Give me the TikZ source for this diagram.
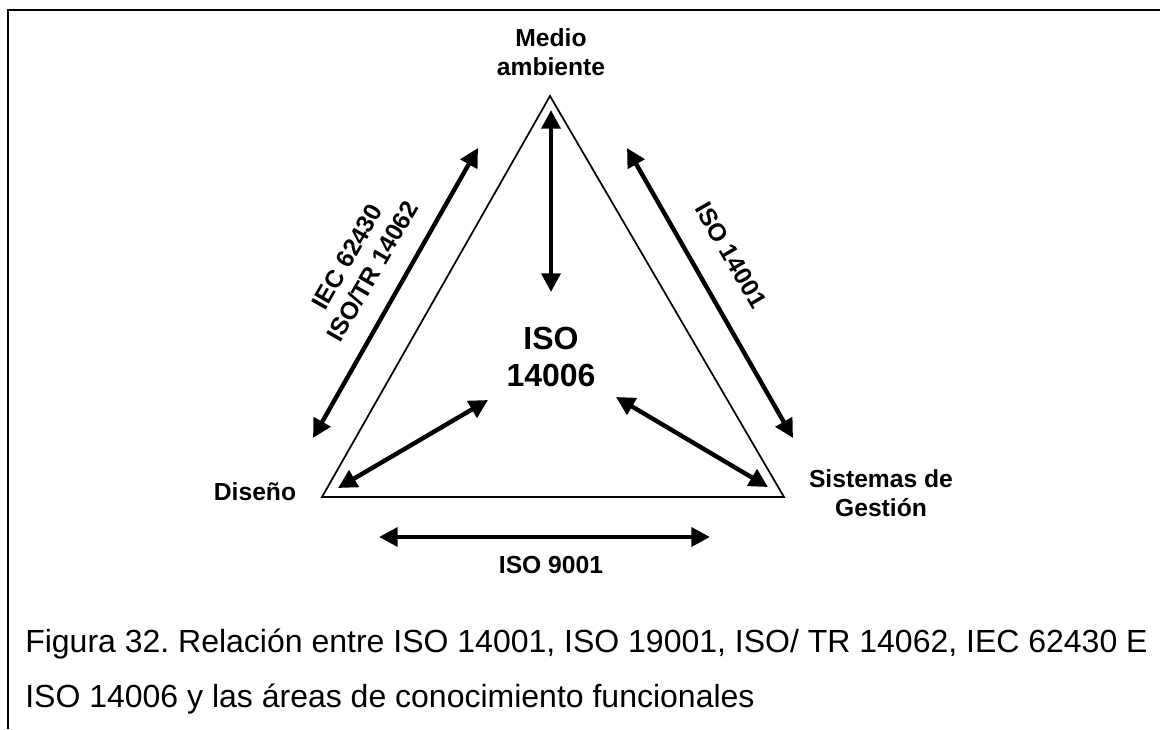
\documentclass[tikz,border=0pt]{standalone}
\usepackage{fontspec}
\setmainfont{Liberation Sans}
\usetikzlibrary{arrows.meta}
\frenchspacing
\begin{document}
\begin{tikzpicture}[x=0.75pt,y=-0.75pt,
  dbl/.style={line width=3.3pt,{Triangle[length=14pt,width=14pt]}-{Triangle[length=14pt,width=14pt]}},
  lbl/.style={font=\fontsize{18.5}{22}\selectfont\bfseries,align=center,inner sep=0pt},
  big/.style={font=\fontsize{24}{28}\selectfont\bfseries,align=center,inner sep=0pt},
  captext/.style={font=\fontsize{24}{28}\selectfont,anchor=base west,inner sep=0pt},
  tri/.style={line width=1.3pt,line join=miter}]
\useasboundingbox (0,0) rectangle (1160,729);
% frame
\draw[line width=1.5pt] (8,729) -- (8,10) -- (1160,10);
% triangle corners
\coordinate (A) at (550,96);
\coordinate (BL) at (322,497);
\coordinate (BR) at (784,497);
\draw[tri] (A) -- (BR) -- (BL) -- cycle;
% arrow end points
\coordinate (v1) at (551,110);
\coordinate (v2) at (551,292);
\coordinate (l1) at (478,148);
\coordinate (l2) at (313,438);
\coordinate (r1) at (627,148);
\coordinate (r2) at (793,438);
\coordinate (il1) at (488,400);
\coordinate (il2) at (338,488);
\coordinate (ir1) at (616,397);
\coordinate (ir2) at (768,487);
\coordinate (b1) at (379,537);
\coordinate (b2) at (710,537);
\draw[dbl] (v1) -- (v2);
\draw[dbl] (l1) -- (l2);
\draw[dbl] (r1) -- (r2);
\draw[dbl] (il1) -- (il2);
\draw[dbl] (ir1) -- (ir2);
\draw[dbl] (b1) -- (b2);
% labels
\node[lbl] (medio) at (551,52) {Medio\\ambiente};
\node[big] (iso14006) at (551,357) {ISO\\14006};
\node[lbl] (diseno) at (255,492) {Diseño};
\node[lbl] (sist) at (881,493) {Sistemas de\\Gestión};
\node[lbl] (iso9001) at (551,565) {ISO 9001};
\node[lbl,rotate=-60] (iso14001) at (731,255) {ISO 14001};
\node[lbl,rotate=60] (iec) at (360,264) {IEC 62430\\ISO/TR 14062};
% caption
\node[captext] (cap1) at (25,652) {Figura 32. Relación entre ISO 14001, ISO 19001, ISO/ TR 14062, IEC 62430 E};
\node[captext] (cap2) at (25,707) {ISO 14006 y las áreas de conocimiento funcionales};
\end{tikzpicture}
\end{document}
